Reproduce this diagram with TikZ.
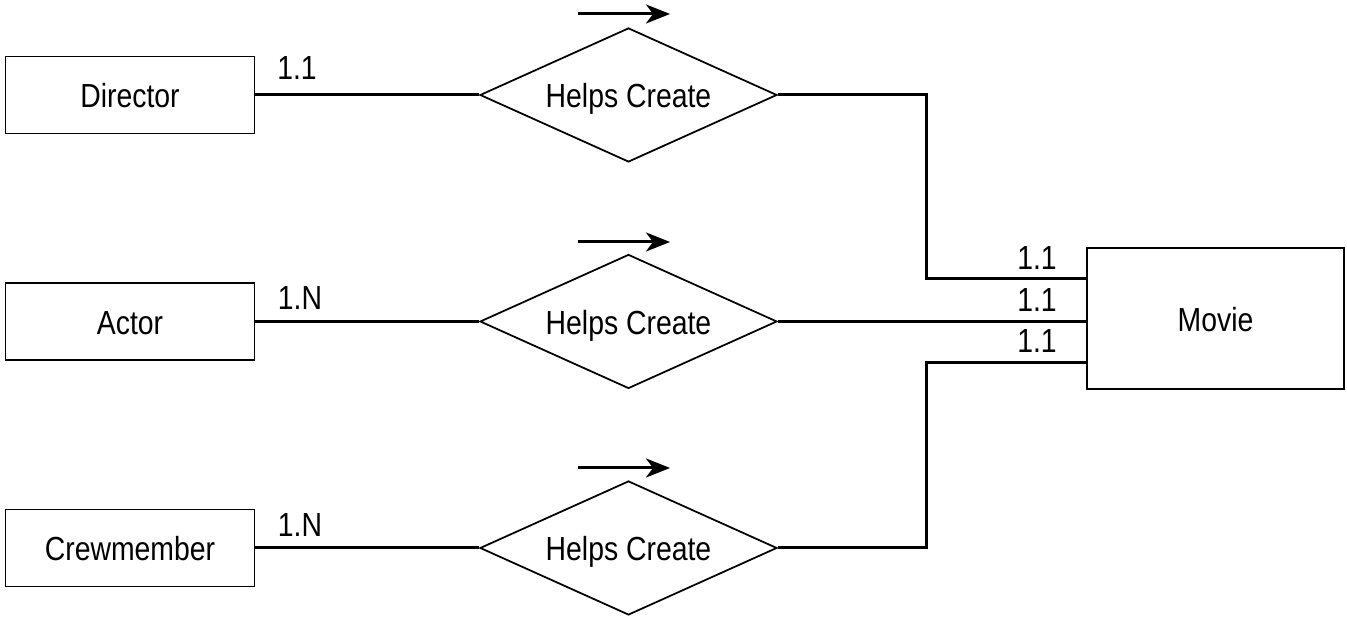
\documentclass[tikz,border=0pt]{standalone}
\usepackage{fontspec}
\setmainfont{Liberation Sans}[FakeStretch=0.85]
\usepackage{tikz}
\usetikzlibrary{arrows.meta,shapes.geometric}
\usetikzlibrary{positioning}
\tikzset{
	entity/.style={draw=black, line width=0.55pt, minimum width=2.49cm,
		minimum height=0.77cm, inner sep=0pt, text height=0.72em, text depth=0pt},
	relation/.style={draw=black, line width=0.5pt, diamond, aspect=2.2,
		minimum width=2.97cm, minimum height=1.34cm, inner sep=0pt,
		text height=0.72em, text depth=0pt},
	conn/.style={draw=black, line width=0.85pt},
	readdir/.style={draw=black, line width=0.85pt,
		-{Stealth[length=0.24cm, width=0.19cm, inset=0.07cm]}},
	card/.style={inner sep=0pt},
}

\begin{document}
\begin{tikzpicture}[font=\fontsize{9.5}{11}\selectfont]
	\useasboundingbox (0,0) rectangle (13.47,-6.19);
	% entities
	\node[entity] (director) at (1.30,-0.95) {Director};
	\node[entity] (actor) at (1.30,-3.215) {Actor};
	\node[entity] (crew) at (1.30,-5.48) {Crewmember};
	\node[entity, minimum width=2.57cm, minimum height=1.41cm] (movie) at (12.155,-3.185) {Movie};
	% relationships
	\node[relation] (helps1) at (6.285,-0.95) {Helps Create};
	\node[relation] (helps2) at (6.285,-3.215) {Helps Create};
	\node[relation] (helps3) at (6.285,-5.48) {Helps Create};
	% reading direction
	\draw[readdir] (5.78,-0.14) -- (6.70,-0.14);
	\draw[readdir] (5.78,-2.42) -- (6.70,-2.42);
	\draw[readdir] (5.78,-4.68) -- (6.70,-4.68);
	% connectors
	\coordinate (m1) at (movie.west |- 0,-2.79);
	\coordinate (m3) at (movie.west |- 0,-3.63);
	\draw[conn] (director.east) -- (helps1.west);
	\draw[conn] (actor.east) -- (helps2.west);
	\draw[conn] (crew.east) -- (helps3.west);
	\draw[conn] (helps1.east) -- ++(1.49,0) |- (m1);
	\draw[conn] (helps2.east) -- (movie.west |- helps2.east);
	\draw[conn] (helps3.east) -- ++(1.49,0) |- (m3);
	% cardinalities
	\node[card] (c1) at (2.97,-0.68) {1.1};
	\node[card] (c2) at (3.00,-2.98) {1.N};
	\node[card] (c3) at (3.00,-5.25) {1.N};
	\node[card] (c4) at (10.37,-2.58) {1.1};
	\node[card] (c5) at (10.37,-3.00) {1.1};
	\node[card] (c6) at (10.37,-3.41) {1.1};
\end{tikzpicture}
\end{document}
